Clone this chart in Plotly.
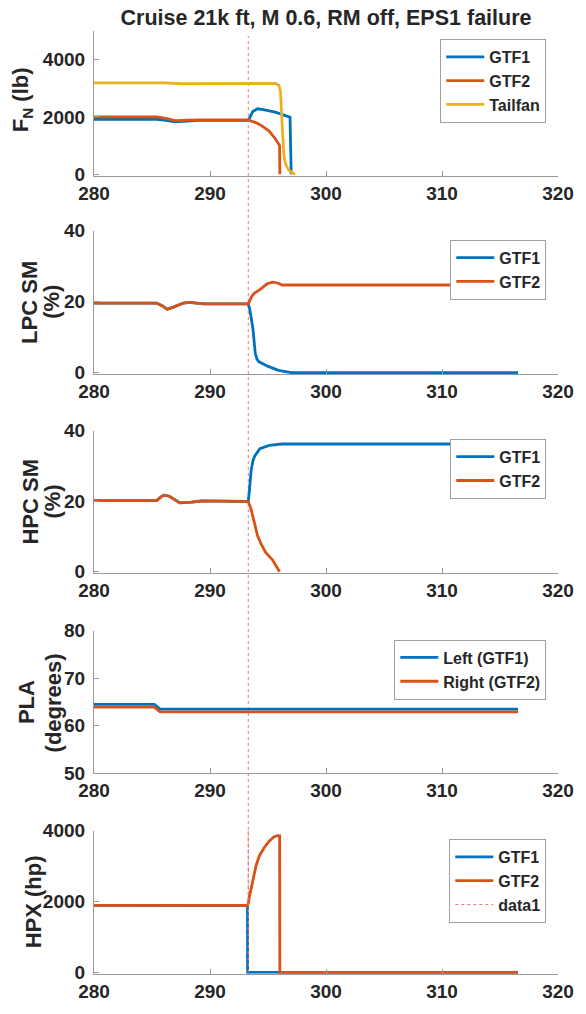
import plotly.graph_objects as go

# ---------------- data ----------------
event_time = 293.3

# Panel 1: net thrust F_N (lb)
fn_gtf1_t = [280, 285.4, 286.2, 287.0, 288.0, 289.0, 293.3, 293.5, 293.7, 294.1, 294.6, 295.7, 296.9, 297.0]
fn_gtf1_v = [1920, 1920, 1880, 1830, 1860, 1880, 1880, 2050, 2195, 2285, 2260, 2160, 1990, 0]
fn_gtf2_t = [280, 285.4, 286.2, 287.0, 288.0, 289.0, 293.3, 294.0, 294.5, 295.1, 295.66, 296.0, 296.02]
fn_gtf2_v = [2000, 2000, 1950, 1870, 1890, 1900, 1900, 1795, 1680, 1510, 1225, 1000, 0]
fn_tail_t = [280, 286.0, 287.5, 290.0, 293.0, 295.66, 295.94, 296.08, 296.16, 296.27, 296.36, 296.5, 296.78, 297.2, 297.35]
fn_tail_v = [3190, 3190, 3160, 3165, 3170, 3170, 3105, 2880, 2200, 1400, 710, 370, 145, 27, 0]

# Panel 2: LPC surge margin (%)
lpc_gtf1_t = [280, 285.4, 285.9, 286.3, 286.8, 287.7, 288.2, 289.5, 293.3, 293.45, 293.7, 293.9, 294.05, 294.2, 294.96, 295.9, 297.0, 316.55]
lpc_gtf1_v = [19.6, 19.6, 18.8, 17.9, 18.4, 19.6, 19.8, 19.4, 19.4, 17.5, 12.4, 5.5, 3.8, 3.1, 1.8, 0.6, 0, 0]
lpc_gtf2_t = [280, 285.4, 285.9, 286.3, 286.8, 287.7, 288.2, 289.5, 293.3, 293.6, 293.86, 294.3, 294.96, 295.4, 295.9, 296.2, 316.55]
lpc_gtf2_v = [19.6, 19.6, 18.8, 17.9, 18.4, 19.6, 19.8, 19.4, 19.4, 21.5, 22.5, 23.4, 25.1, 25.5, 25.2, 24.7, 24.7]

# Panel 3: HPC surge margin (%)
hpc_gtf1_t = [280, 285.4, 285.7, 286.0, 286.5, 287.0, 287.4, 288.4, 289.3, 291.0, 293.3, 293.4, 293.54, 293.7, 293.86, 294.3, 295.1, 296.2, 316.55]
hpc_gtf1_v = [20.15, 20.15, 21.0, 21.7, 21.4, 20.3, 19.5, 19.7, 20.05, 20.0, 19.9, 23.1, 28.6, 31.5, 32.8, 34.9, 35.8, 36.2, 36.2]
hpc_gtf2_t = [280, 285.4, 285.7, 286.0, 286.5, 287.0, 287.4, 288.4, 289.3, 291.0, 293.3, 293.55, 293.83, 294.1, 294.4, 294.8, 295.4, 295.8, 296.0]
hpc_gtf2_v = [20.15, 20.15, 21.0, 21.7, 21.4, 20.3, 19.5, 19.7, 20.05, 20.0, 19.9, 17.6, 13.9, 10.2, 7.9, 5.5, 3.3, 0.9, 0]

# Panel 4: power lever angle (degrees)
pla_left_t = [280, 285.2, 285.7, 316.55]
pla_left_v = [64.5, 64.5, 63.5, 63.5]
pla_right_t = [280, 285.2, 285.7, 316.55]
pla_right_v = [63.9, 63.9, 62.9, 62.9]

# Panel 5: power extraction HPX (hp)
hpx_gtf1_t = [280, 286.0, 287.5, 289.0, 293.23, 293.24, 316.55]
hpx_gtf1_v = [1890, 1890, 1870, 1885, 1885, 0, 0]
hpx_gtf2_t = [280, 286.0, 287.5, 289.0, 293.27, 293.4, 293.7, 293.97, 294.25, 294.67, 295.1, 295.5, 295.8, 296.0, 296.02, 316.55]
hpx_gtf2_v = [1890, 1890, 1870, 1885, 1887, 2135, 2640, 3007, 3283, 3514, 3697, 3818, 3854, 3850, 0, 0]

x_ticks = [280, 290, 300, 310, 320]
title_text = "Cruise 21k ft, M 0.6, RM off, EPS1 failure"

# ---------------- style ----------------
BLUE = '#0072BD'
ORANGE = '#D95319'
YELLOW = '#EDB120'
RED_DASH = 'rgb(236,120,120)'
TXT = '#262626'
AXC = '#9a9a9a'
FAM = 'Liberation Sans, Arial, sans-serif'
LW = 2.8

W, H = 586, 1014
ML, MR, MT, MB = 94, 17, 31, 28
PW = W - ML - MR
PH = H - MT - MB


def yp(px):
    return (H - MB - px) / PH


def xp(px):
    return (px - ML) / PW


panels = [
    dict(top=31, bot=177.5, rng=[-48, 5000], ticks=[0, 2000, 4000]),
    dict(top=233.3, bot=378.3, rng=[-0.39, 40], ticks=[0, 20, 40]),
    dict(top=435.7, bot=580, rng=[-0.39, 40], ticks=[0, 20, 40]),
    dict(top=638.3, bot=782.7, rng=[50, 80], ticks=[50, 60, 70, 80]),
    dict(top=840.7, bot=985.7, rng=[-39, 4000], ticks=[0, 2000, 4000]),
]

fig = go.Figure()


def add(t, v, color, name, k, dash=None):
    sfx = '' if k == 1 else str(k)
    fig.add_trace(go.Scatter(
        x=t, y=v, mode='lines', name=name,
        line=dict(color=color, width=LW if dash is None else 1.2, dash=dash),
        xaxis='x' + sfx, yaxis='y' + sfx, legend='legend' + sfx,
    ))


add(fn_gtf1_t, fn_gtf1_v, BLUE, 'GTF1', 1)
add(fn_gtf2_t, fn_gtf2_v, ORANGE, 'GTF2', 1)
add(fn_tail_t, fn_tail_v, YELLOW, 'Tailfan', 1)
add(lpc_gtf1_t, lpc_gtf1_v, BLUE, 'GTF1', 2)
add(lpc_gtf2_t, lpc_gtf2_v, ORANGE, 'GTF2', 2)
add(hpc_gtf1_t, hpc_gtf1_v, BLUE, 'GTF1', 3)
add(hpc_gtf2_t, hpc_gtf2_v, ORANGE, 'GTF2', 3)
add(pla_left_t, pla_left_v, BLUE, 'Left (GTF1)', 4)
add(pla_right_t, pla_right_v, ORANGE, 'Right (GTF2)', 4)
add(hpx_gtf1_t, hpx_gtf1_v, BLUE, 'GTF1', 5)
add(hpx_gtf2_t, hpx_gtf2_v, ORANGE, 'GTF2', 5)
add([event_time, event_time], [0, 4000], RED_DASH, 'data1', 5, dash='3px,3px')

tickfont = dict(family=FAM, size=19, color=TXT, weight='bold')
layout = dict(
    width=W, height=H,
    margin=dict(l=ML, r=MR, t=MT, b=MB, pad=0),
    paper_bgcolor='white', plot_bgcolor='rgba(0,0,0,0)',
    showlegend=True,
    title=dict(text=title_text, x=xp(331.5), xref='paper', xanchor='center',
               y=1 - 17 / H, yref='container', yanchor='middle',
               font=dict(family=FAM, size=21.5, color=TXT, weight='bold')),
)

legend_pos = [(557, 39), (557, 242.3), (557, 444), (557, 647.3), (557, 849.3)]

for i, p in enumerate(panels):
    k = i + 1
    sfx = '' if k == 1 else str(k)
    layout['xaxis' + sfx] = dict(
        domain=[0, 1], range=[280, 320], tickvals=x_ticks,
        showline=True, linecolor=AXC, linewidth=1.2, mirror=False,
        ticks='inside', ticklen=5, tickcolor=AXC, tickwidth=1,
        tickfont=tickfont, showgrid=False, zeroline=False,
        anchor='y' + sfx, fixedrange=True,
    )
    layout['yaxis' + sfx] = dict(
        domain=[yp(p['bot']), yp(p['top'])], range=p['rng'], tickvals=p['ticks'],
        showline=True, linecolor=AXC, linewidth=1.2, mirror=False,
        ticks='inside', ticklen=5, tickcolor=AXC, tickwidth=1,
        tickfont=tickfont, showgrid=False, zeroline=False,
        anchor='x' + sfx, ticklabelstandoff=4, fixedrange=True,
    )
    lx, ly = legend_pos[i]
    layout['legend' + sfx] = dict(
        x=xp(lx), xref='paper', xanchor='right',
        y=yp(ly), yref='paper', yanchor='top',
        bgcolor='white', bordercolor='#a0a0a0', borderwidth=1,
        font=dict(family=FAM, size=16, color=TXT, weight='bold'),
        itemwidth=38, tracegroupgap=0,
    )

fig.update_layout(**layout)

# vertical event line spanning all panels
fig.add_shape(type='line', xref='x5', yref='paper', x0=event_time, x1=event_time,
              y0=0, y1=yp(36), line=dict(color=RED_DASH, width=1, dash='3px,3px'),
              layer='below')

# y-axis titles (each line placed separately for tight line spacing)
ytitles = [
    ("F<sub>N</sub> (lb)", 20.5, 101),
    ("LPC SM", 28, 305.8),
    ("(%)", 50.5, 305.8),
    ("HPC SM", 28, 508),
    ("(%)", 50.5, 508),
    ("PLA", 25, 711),
    ("(degrees)", 52, 711),
    ("HPX (hp)", 33, 913),
]
for txt, cx, cy in ytitles:
    fig.add_annotation(text=txt, xref='paper', yref='paper', x=xp(cx), y=yp(cy),
                       xanchor='center', yanchor='middle', textangle=-90,
                       showarrow=False,
                       font=dict(family=FAM, size=22, color=TXT, weight='bold'))

fig.write_html("out.html")
